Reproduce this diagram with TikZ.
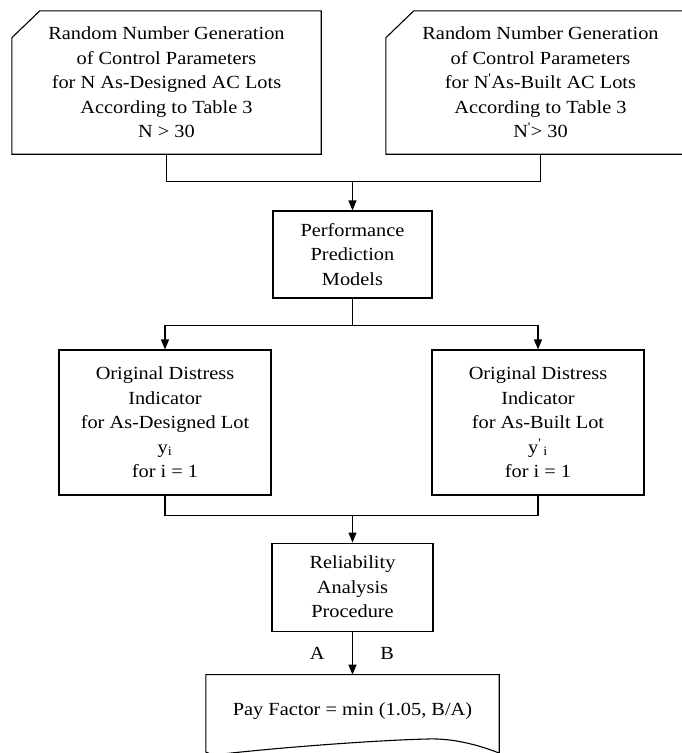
\documentclass[tikz,border=0pt]{standalone}
\usepackage{fontspec}
\setmainfont{Liberation Serif}[FakeStretch=1.1]
\usetikzlibrary{arrows.meta,positioning,calc}

\begin{document}
\begin{tikzpicture}[
  x=1pt, y=1pt,
  txt/.style={font=\fontsize{18.5}{24.5}\selectfont, align=center},
  inbox/.style={txt, rectangle, minimum width=309pt, minimum height=143pt, inner sep=0pt},
  prc/.style={txt, rectangle, draw, line width=1.1pt, minimum height=87pt, inner sep=0pt},
  doc/.style={txt, rectangle, minimum width=293pt, minimum height=72pt, inner sep=0pt},
  ln/.style={line width=1.1pt},
  arr/.style={-{Triangle[length=10pt, width=8pt]}, line width=1.1pt}
]
  \useasboundingbox (0,0) rectangle (682,-753);

  % Inputs
  \node[inbox] (genA) at (166.5,-82.5) {Random Number Generation\\ of Control Parameters\\ for N As-Designed AC Lots\\ According to Table 3\\ N {>} 30};
  \node[inbox] (genB) at (540.5,-82.5) {Random Number Generation\\ of Control Parameters\\ for N\textsuperscript{\textquotesingle}As-Built AC Lots\\ According to Table 3\\ N\textsuperscript{\textquotesingle}{>} 30};
  \foreach \b in {genA,genB}
    \draw[ln] ($(\b.north west)+(0,-27)$) -- ($(\b.north west)+(28,0)$) -- (\b.north east) -- (\b.south east) -- (\b.south west) -- cycle;

  % Models
  \node[prc, minimum width=159pt] (perf) at (352.5,-254.5) {Performance\\ Prediction\\ Models};

  % Distress indicators
  \node[prc, minimum width=212pt, minimum height=145pt] (distA) at (165,-422.5) {Original Distress\\ Indicator\\ for As-Designed Lot\\ y\textsubscript{i}\\ for i = 1};
  \node[prc, minimum width=212pt, minimum height=145pt] (distB) at (538,-422.5) {Original Distress\\ Indicator\\ for As-Built Lot\\ y\textsuperscript{\textquotesingle}\textsubscript{\,i}\\ for i = 1};

  % Reliability and pay factor
  \node[prc, minimum width=161pt, minimum height=88pt, below=244pt of perf] (rel) {Reliability\\ Analysis\\ Procedure};
  \node[doc, below=43pt of rel] (pay) {Pay Factor = min (1.05, B/A)};
  \draw[ln] ($(pay.south west)+(0,-5)$) -- (pay.north west) -- (pay.north east) -- ($(pay.south east)+(0,-6)$)
    .. controls ($(pay.south east)+(-28,5)$) and ($(pay.south east)+(-53,9)$) .. ($(pay.south east)+(-73,8)$)
    .. controls ($(pay.south east)+(-118,7)$) and ($(pay.south east)+(-218,0)$) .. ($(pay.south east)+(-286,-8)$)
    -- cycle;

  % Junctions
  \coordinate (jtop) at ($(perf.north)+(0,29)$);
  \coordinate (jmid) at ($(perf.south)+(0,-27)$);
  \coordinate (jbot) at ($(rel.north)+(0,27)$);

  % Connectors
  \draw[ln] (genA.south) |- (jtop) -| (genB.south);
  \draw[arr] (jtop) -- (perf.north);
  \draw[ln] (perf.south) -- (jmid);
  \draw[arr] (jmid) -| (distA.north);
  \draw[arr] (jmid) -| (distB.north);
  \draw[ln] (distA.south) |- (jbot) -| (distB.south);
  \draw[arr] (jbot) -- (rel.north);
  \draw[arr] (rel.south) -- node[txt, left=24pt] {A} node[txt, right=24pt] {B} (pay.north);
\end{tikzpicture}
\end{document}
